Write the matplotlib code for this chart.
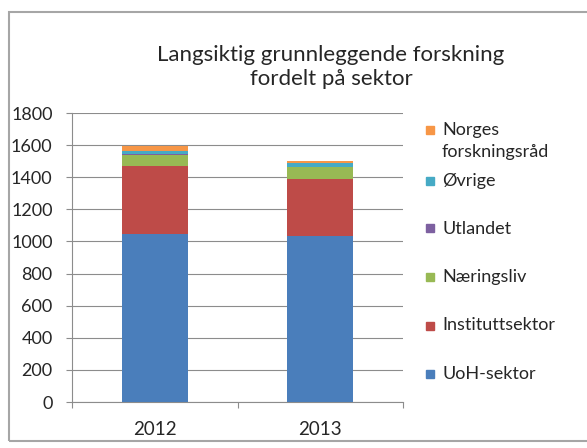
import numpy as np
import matplotlib
matplotlib.use("Agg")
import matplotlib.pyplot as plt
from matplotlib.patches import Rectangle

plt.rcParams['font.family'] = ['Lato', 'DejaVu Sans']

years = ['2012', '2013']
sectors = ['UoH-sektor', 'Instituttsektor', 'Næringsliv', 'Utlandet',
           'Øvrige', 'Norges\nforskningsråd']
uoh = [1045, 1036]
institutt = [422, 355]
naeringsliv = [72, 72]
utlandet = [3, 3]
ovrige = [24, 22]
nfr = [27, 10]
colors = ['#4A7EBB', '#BE4B48', '#98B954', '#7D60A0', '#46AAC5', '#F79646']

series = [uoh, institutt, naeringsliv, utlandet, ovrige, nfr]

W, H = 587, 448
fig = plt.figure(figsize=(W / 100, H / 100), dpi=100)

# outer chart border
fig.patches.append(Rectangle((9 / W, 1 - 441 / H), (W + 5 - 9) / W, (441 - 12) / H,
                             transform=fig.transFigure, fill=False,
                             edgecolor='#A6A6A6', linewidth=1.5))

ax = fig.add_axes([72 / W, 1 - 402 / H, (403 - 72) / W, (402 - 113) / H])
x = np.arange(len(years))
bottom = np.zeros(len(years))
for vals, col, lab in zip(series, colors, sectors):
    ax.bar(x, vals, 0.4, bottom=bottom, color=col, label=lab, zorder=3)
    bottom += np.array(vals)

ax.set_xlim(-0.5, 1.5)
ax.set_ylim(0, 1800)
ax.set_yticks(np.arange(0, 1801, 200))
ax.yaxis.grid(True, color='#8C8C8C', linewidth=0.8, zorder=0)
ax.set_xticks([-0.5, 0.5, 1.5], minor=False)
ax.set_xticklabels([])
ax.set_xticks(x, minor=True)
ax.set_xticklabels(years, minor=True)
ax.tick_params(axis='x', which='major', length=4, color='#8C8C8C', direction='out')
ax.tick_params(axis='x', which='minor', length=0, labelsize=13.5, pad=14, labelcolor='#262626')
ax.tick_params(axis='y', length=4, color='#8C8C8C', labelsize=13, labelcolor='#262626', pad=10)
for s in ['top', 'right']:
    ax.spines[s].set_visible(False)
for s in ['left', 'bottom']:
    ax.spines[s].set_color('#8C8C8C')
    ax.spines[s].set_linewidth(0.8)

fig.text(331 / W, 1 - 67 / H, 'Langsiktig grunnleggende forskning\nfordelt på sektor',
         ha='center', va='center', fontsize=16, color='#262626', linespacing=1.25)

# legend drawn by hand: Excel keeps the marker on the first line of a wrapped label
legend_y = [374, 325.5, 277, 228.5, 181, 130]
for lab, col, yy in zip(sectors, colors, legend_y):
    fig.patches.append(Rectangle((426 / W, 1 - (yy + 4) / H), 8 / W, 8 / H,
                                 transform=fig.transFigure, color=col))
    fig.text(442 / W, 1 - (yy - 8) / H, lab, ha='left', va='top', fontsize=13,
             color='#262626', linespacing=1.45)

fig.savefig('out.png', dpi=100)
